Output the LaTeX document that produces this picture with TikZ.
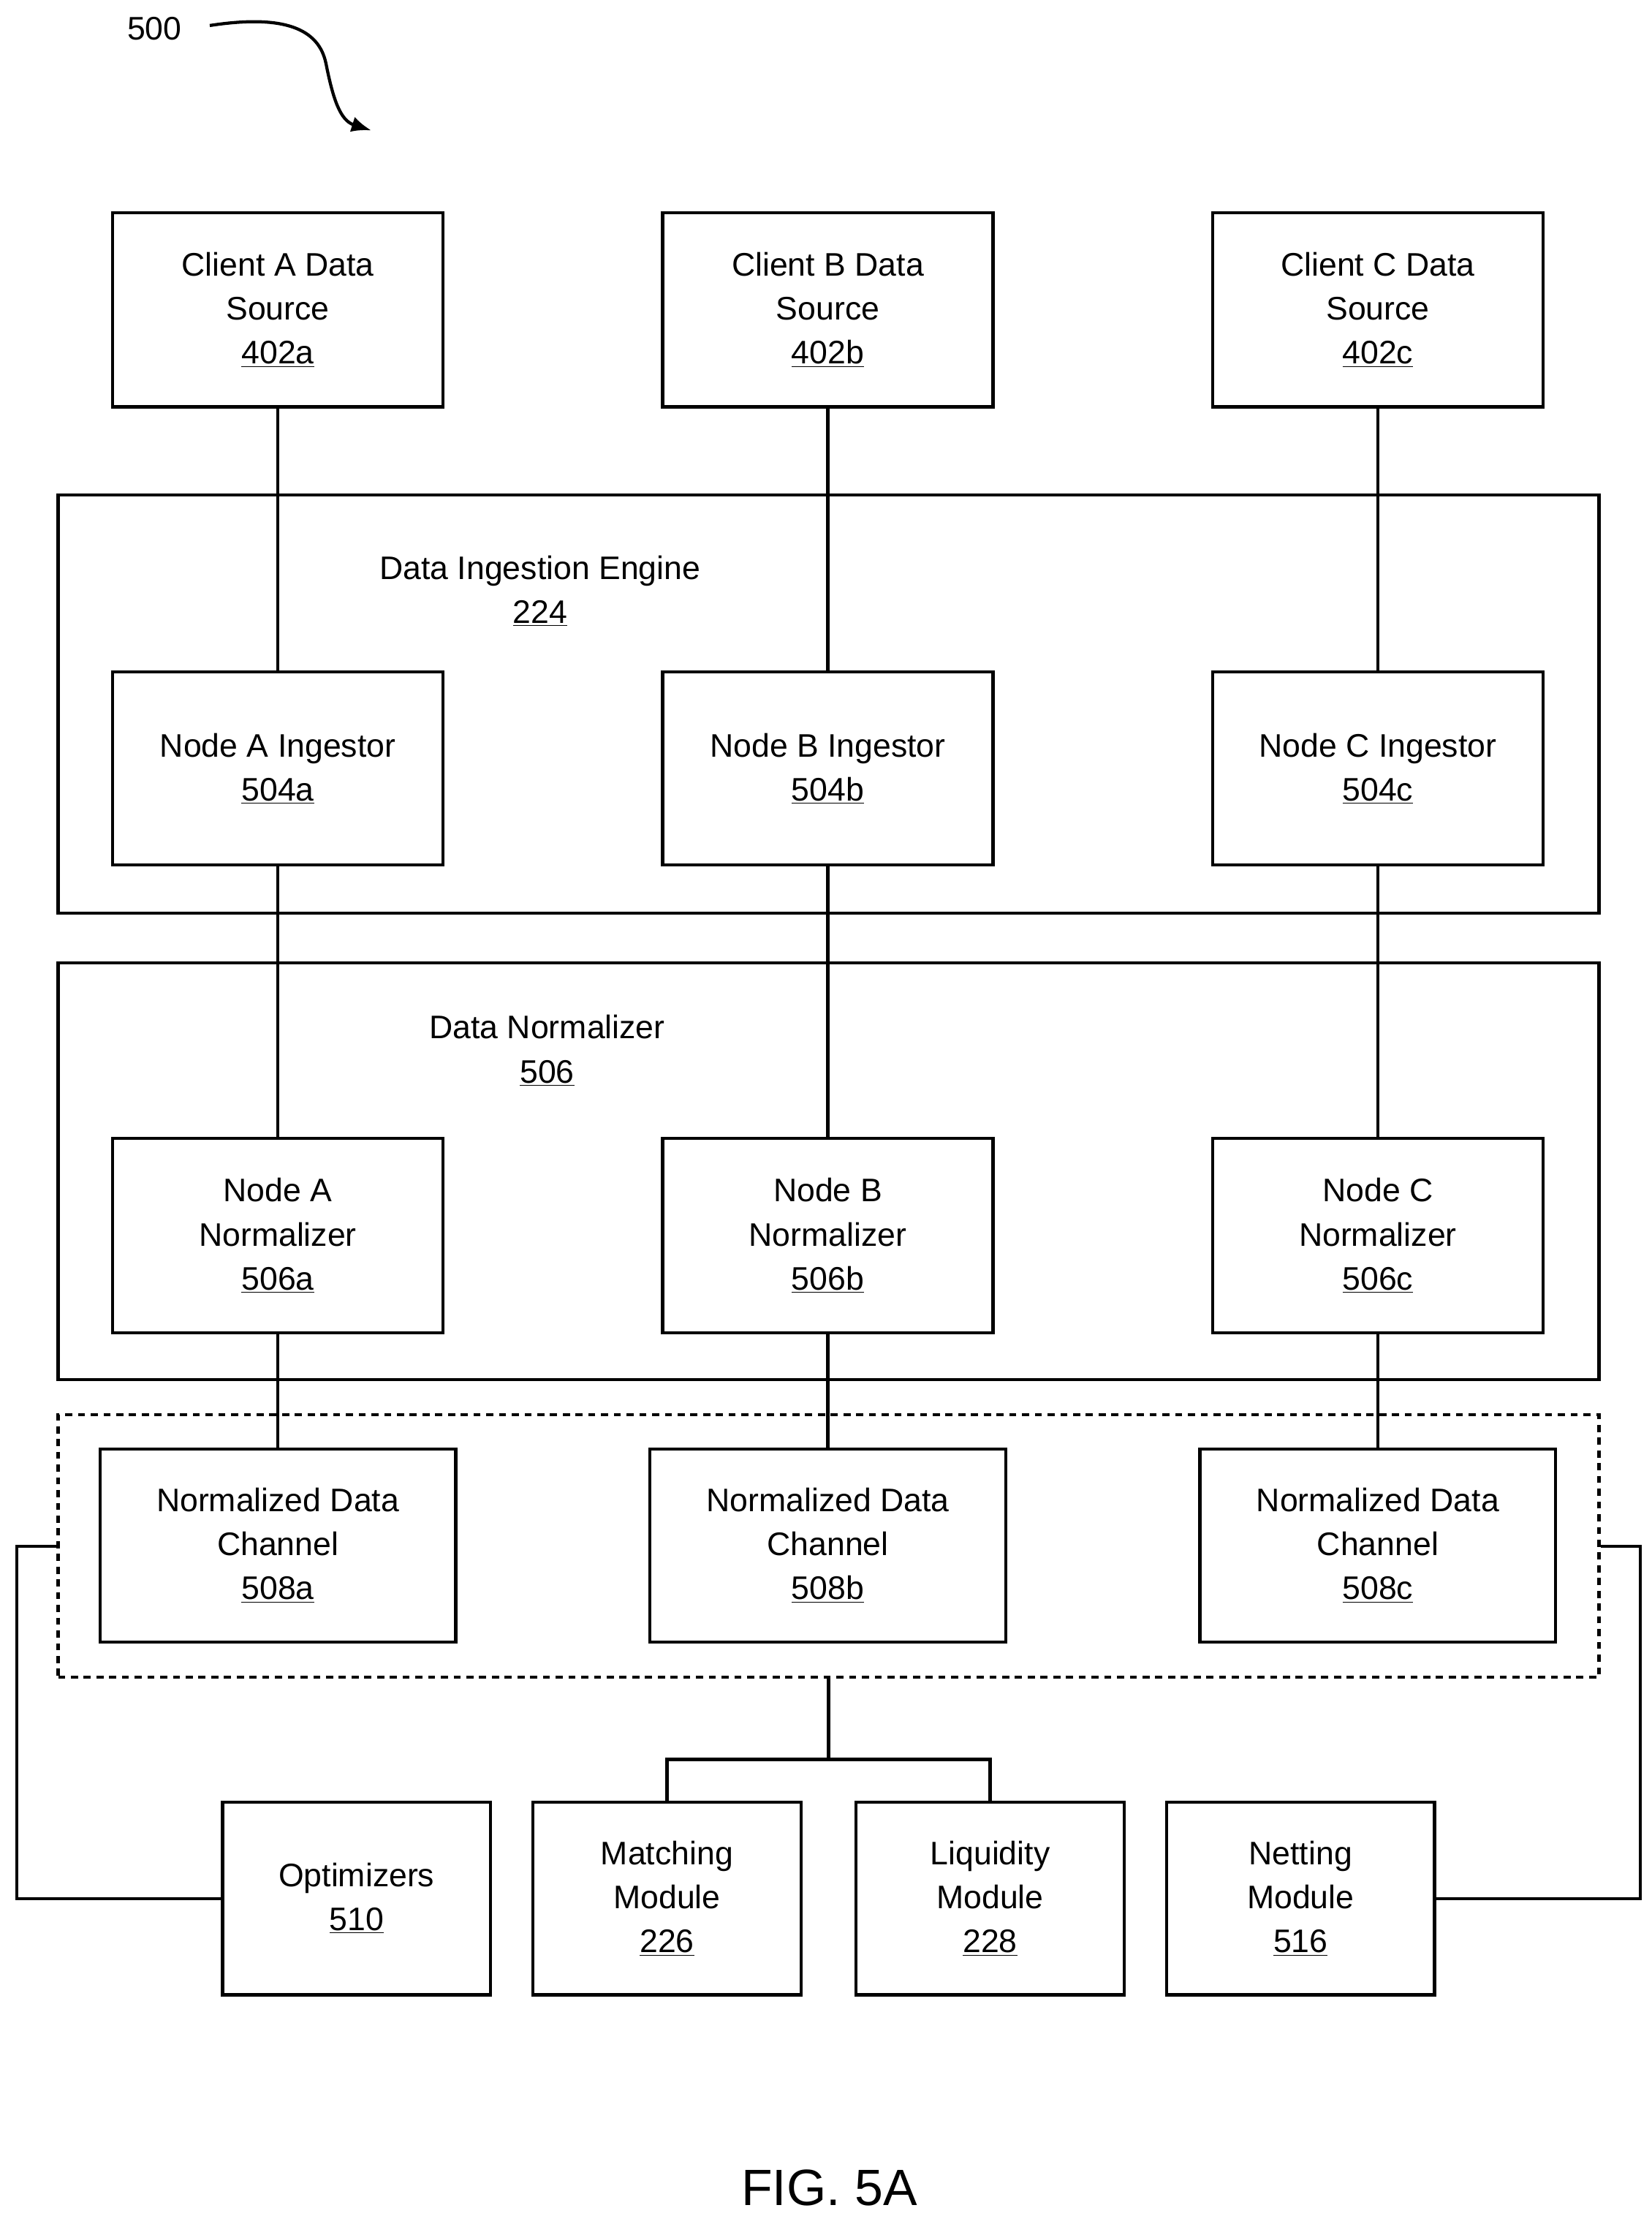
\documentclass[tikz,border=0pt]{standalone}
\usepackage{fontspec}
\usetikzlibrary{arrows.meta}
\setmainfont{Liberation Sans}
\begin{document}
\begin{tikzpicture}[x=1pt,y=-1pt,
  box/.style={draw,line width=2.2pt,align=center,font=\fontsize{23}{31}\selectfont,inner sep=0pt},
  big/.style={draw,line width=2.2pt},
  ln/.style={line width=2.2pt}]
\useasboundingbox (0,0) rectangle (1165,1563);
\newcommand{\ul}[1]{\underline{#1}}
% big containers
\node[big,minimum width=1087pt,minimum height=295pt] (ing) at (584.5,496.5) {};
\node[big,minimum width=1087pt,minimum height=294pt] (norm) at (584.5,826) {};
\node[draw,line width=2.2pt,dash pattern=on 5pt off 4pt,minimum width=1087pt,minimum height=185pt] (dash) at (584.5,1090.5) {};
\node[align=center,font=\fontsize{23}{31}\selectfont] (ingt) at (381,417) {Data Ingestion Engine\\\ul{224}};
\node[align=center,font=\fontsize{23}{31}\selectfont] (normt) at (386,741) {Data Normalizer\\\ul{506}};
% boxes
\foreach \n/\x/\l in {A/196/a,B/584/b,C/972/c}{
  \node[box,minimum width=233pt,minimum height=137pt] (cl\l) at (\x,218.5) {Client \n\ Data\\Source\\\ul{402\l}};
  \node[box,minimum width=233pt,minimum height=136pt] (in\l) at (\x,542) {Node \n\ Ingestor\\\ul{504\l}};
  \node[box,minimum width=233pt,minimum height=137pt] (no\l) at (\x,871.5) {Node \n\\Normalizer\\\ul{506\l}};
  \node[box,minimum width=251pt,minimum height=136pt] (ch\l) at (\x,1090) {Normalized Data\\Channel\\\ul{508\l}};
  \draw[ln] (cl\l) -- (in\l);
  \draw[ln] (in\l) -- (no\l);
  \draw[ln] (no\l) -- (ch\l);
}
\node[box,minimum width=189pt,minimum height=136pt] (opt) at (251.5,1339) {Optimizers\\\ul{510}};
\node[box,minimum width=189pt,minimum height=136pt] (mat) at (470.5,1339) {Matching\\Module\\\ul{226}};
\node[box,minimum width=189pt,minimum height=136pt] (liq) at (698.5,1339) {Liquidity\\Module\\\ul{228}};
\node[box,minimum width=189pt,minimum height=136pt] (net) at (917.5,1339) {Netting\\Module\\\ul{516}};
\coordinate (j) at (584.5,1241);
\draw[ln] (dash.south) -- (j);
\draw[ln] (mat.north) |- (j) -| (liq.north);
\draw[ln] (dash.west) -- (12,1090.5) |- (opt.west);
\draw[ln] (dash.east) -- (1157,1090.5) |- (net.east);
\node[font=\fontsize{36}{40}\selectfont] (fig) at (585,1543) {FIG. 5A};
\node[font=\fontsize{23}{28}\selectfont] (n500) at (109,20) {500};
\coordinate (arr) at (262,92);
\draw[line width=2.2pt,-{Latex[length=14pt,width=11pt]}] (148,18) .. controls (200,10) and (225,20) .. (230,45) .. controls (235,70) and (240,85) .. (arr);
\end{tikzpicture}
\end{document}
